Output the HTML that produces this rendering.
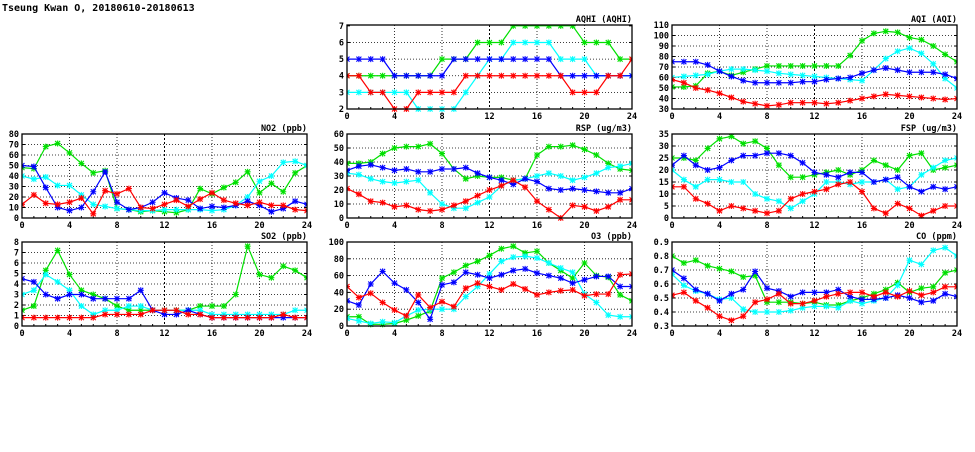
<!DOCTYPE html>
<html><head><meta charset="utf-8"><style>
body{margin:0;background:#fff;width:975px;height:447px;overflow:hidden}
svg text{font-family:"DejaVu Sans Mono","Liberation Mono",monospace;font-weight:bold;font-size:8.5px;fill:#000}
</style></head><body>
<svg id="s" width="975" height="447" xmlns="http://www.w3.org/2000/svg">
<text x="2" y="11" style="font-size:10px">Tseung Kwan O, 20180610-20180613</text>
</svg>
<script>
const P=[
{t:"AQHI (AQHI)",x:347,y:25,min:2,max:7.05,st:1,dp:0,d:[
[4,4,4,4,4,4,4,4,5,5,5,6,6,6,7,7,7,7,7,7,6,6,6,5,5],
[3,3,3,3,3,3,2,2,2,2,3,4,5,5,6,6,6,6,5,5,5,4,4,4,4],
[5,5,5,5,4,4,4,4,4,5,5,5,5,5,5,5,5,5,4,4,4,4,4,4,4],
[4,4,3,3,2,2,3,3,3,3,4,4,4,4,4,4,4,4,4,3,3,3,4,4,5]]},
{t:"AQI (AQI)",x:672,y:25,min:30,max:110,st:10,dp:0,d:[
[51,51,52,64,66,62,65,68,71,71,71,71,71,71,71,81,95,102,104,103,98,96,90,82,75],
[60,61,62,63,66,68,68,67,66,64,63,62,61,60,59,58,57,67,78,85,88,83,73,59,50],
[75,75,75,72,66,61,57,55,55,55,55,56,56,58,59,60,64,67,69,67,65,65,65,63,59],
[58,55,50,48,45,41,37,35,33,34,36,36,36,35,36,38,40,42,44,43,42,41,40,39,40]]},
{t:"NO2 (ppb)",x:22,y:134,min:0,max:80,st:10,dp:0,d:[
[48,47,68,71,62,52,43,45,9,8,6,7,6,5,8,28,23,29,34,44,24,33,25,43,50],
[40,37,39,31,31,22,13,11,9,8,7,7,8,8,8,8,7,8,12,20,35,40,53,54,50],
[50,49,29,10,7,10,25,44,15,8,10,15,24,19,17,9,11,10,12,16,12,6,9,16,13],
[13,22,14,13,15,19,4,26,23,28,10,9,13,17,11,18,24,17,14,12,15,12,12,8,7]]},
{t:"RSP (ug/m3)",x:347,y:134,min:0,max:60,st:10,dp:0,d:[
[39,39,40,46,50,51,51,53,46,35,28,30,29,29,27,28,45,51,51,52,49,45,39,35,34],
[32,31,28,26,25,26,27,18,10,7,7,11,15,23,27,28,30,32,30,27,29,32,36,37,39],
[34,37,38,36,34,35,33,33,35,35,36,32,29,27,24,28,26,21,20,21,20,19,18,18,21],
[21,17,12,11,8,9,6,5,6,9,12,16,20,23,27,22,12,6,0,9,8,5,8,13,13]]},
{t:"FSP (ug/m3)",x:672,y:134,min:0,max:35,st:5,dp:0,d:[
[25,25,24,29,33,34,31,32,29,22,17,17,18,19,20,18,20,24,22,20,26,27,20,21,22],
[20,16,13,16,16,15,15,10,8,7,4,7,10,15,15,14,15,15,16,12,13,18,21,24,25],
[22,26,22,20,21,24,26,26,27,27,26,23,19,18,17,19,19,15,16,17,13,11,13,12,13],
[13,13,8,6,3,5,4,3,2,3,8,10,11,12,14,15,11,4,2,6,4,1,3,5,5]]},
{t:"SO2 (ppb)",x:22,y:242,min:0,max:8,st:1,dp:0,d:[
[1.5,1.9,5.3,7.2,4.9,3.4,3.0,2.6,1.9,1.5,1.5,1.5,1.5,1.5,1.5,1.9,1.9,1.9,3.0,7.6,4.9,4.6,5.7,5.3,4.6],
[3.0,3.4,4.9,4.2,3.4,1.9,1.1,1.5,1.5,1.9,1.9,1.5,1.5,1.5,1.5,1.5,1.1,1.1,1.1,1.1,1.1,1.1,1.1,1.5,1.5],
[4.5,4.2,3.0,2.6,3.0,3.0,2.6,2.6,2.6,2.6,3.4,1.5,1.1,1.1,1.5,1.1,0.8,0.8,0.8,0.8,0.8,0.8,0.8,0.8,0.8],
[0.8,0.8,0.8,0.8,0.8,0.8,0.8,1.1,1.1,1.1,1.1,1.5,1.5,1.5,1.1,1.1,0.8,0.8,0.8,0.8,0.8,0.8,1.1,0.8,0.8]]},
{t:"O3 (ppb)",x:347,y:242,min:0,max:100,st:20,dp:0,d:[
[11,11,2,2,3,7,12,18,57,64,72,77,84,92,95,87,89,75,66,57,75,60,58,37,30],
[9,6,3,5,4,12,19,20,20,20,35,47,62,77,82,83,81,75,69,64,38,28,13,11,11],
[30,25,50,65,51,43,28,8,49,52,64,61,57,61,66,68,63,60,57,51,55,59,59,47,47],
[47,34,39,28,19,12,37,22,29,23,45,51,47,43,50,44,37,40,42,43,36,38,38,61,62]]},
{t:"CO (ppm)",x:672,y:242,min:0.3,max:0.9,st:0.1,dp:1,d:[
[.80,.75,.77,.73,.71,.69,.65,.66,.47,.47,.47,.46,.47,.45,.45,.48,.50,.53,.56,.61,.54,.57,.58,.68,.70],
[.67,.59,.55,.53,.49,.50,.42,.40,.40,.40,.41,.43,.44,.44,.43,.48,.46,.48,.50,.59,.77,.74,.84,.86,.80],
[.70,.64,.56,.53,.48,.53,.56,.69,.57,.55,.51,.54,.54,.54,.56,.51,.49,.49,.50,.52,.50,.47,.48,.53,.51],
[.52,.54,.48,.43,.37,.34,.37,.47,.49,.53,.46,.46,.48,.51,.53,.54,.54,.51,.54,.51,.55,.52,.54,.58,.58]]}
];
const C=["#00e000","#00ffff","#0000ff","#ff0000"];
const W=285,H=84;let h="";
for(const p of P){
 const X=i=>p.x+i/24*W, Y=v=>p.y+H-(v-p.min)/(p.max-p.min)*H;
 const n=Math.round((p.max-p.min)/p.st);
 for(let k=0;k<=n;k++){const v=p.min+k*p.st,y=Y(v);
  if(k>0&&k<n)h+=`<line x1="${p.x}" x2="${p.x+W}" y1="${y}" y2="${y}" stroke="#000" stroke-width="0.8" stroke-dasharray="1,2"/>`;
  h+=`<line x1="${p.x}" x2="${p.x+3}" y1="${y}" y2="${y}" stroke="#000"/><line x1="${p.x+W-3}" x2="${p.x+W}" y1="${y}" y2="${y}" stroke="#000"/>`;
  h+=`<text x="${p.x-3}" y="${y+3}" text-anchor="end">${v.toFixed(p.dp)}</text>`;}
 for(let t=0;t<=24;t+=4){const x=X(t);
  if(t>0&&t<24)h+=`<line x1="${x}" x2="${x}" y1="${p.y}" y2="${p.y+H}" stroke="#000" stroke-width="${t==12?1:0.8}" stroke-dasharray="${t==12?'2,2':'1,2'}"/>`;
  h+=`<text x="${x}" y="${p.y+H+10}" text-anchor="middle">${t}</text>`;}
 for(let t=1;t<24;t++){if(t%4)h+=`<line x1="${X(t)}" x2="${X(t)}" y1="${p.y+H}" y2="${p.y+H-2}" stroke="#000"/>`;}
 h+=`<text x="${p.x+W}" y="${p.y-3}" text-anchor="end">${p.t}</text>`;
 h+=`<svg x="${p.x}" y="${p.y}" width="${W}" height="${H+3}" style="overflow:hidden" viewBox="${p.x} ${p.y} ${W} ${H+3}">`;
 p.d.forEach((s,j)=>{const pts=s.map((v,i)=>[X(i),Y(v)]);
  h+=`<polyline fill="none" stroke="${C[j]}" stroke-width="1.2" points="${pts.map(a=>a.join(',')).join(' ')}"/>`;
  for(const [x,y] of pts)h+=`<path d="M${x-2.5} ${y-2.5}L${x+2.5} ${y+2.5}M${x-2.5} ${y+2.5}L${x+2.5} ${y-2.5}M${x-3} ${y}H${x+3}M${x} ${y-3}V${y+3}" stroke="${C[j]}" stroke-width="1.1"/>`;});
 h+=`</svg>`;
 h+=`<rect x="${p.x}" y="${p.y}" width="${W}" height="${H}" fill="none" stroke="#000" stroke-width="1.3"/>`;
}
document.getElementById("s").insertAdjacentHTML("beforeend",h);
</script>
</body></html>
